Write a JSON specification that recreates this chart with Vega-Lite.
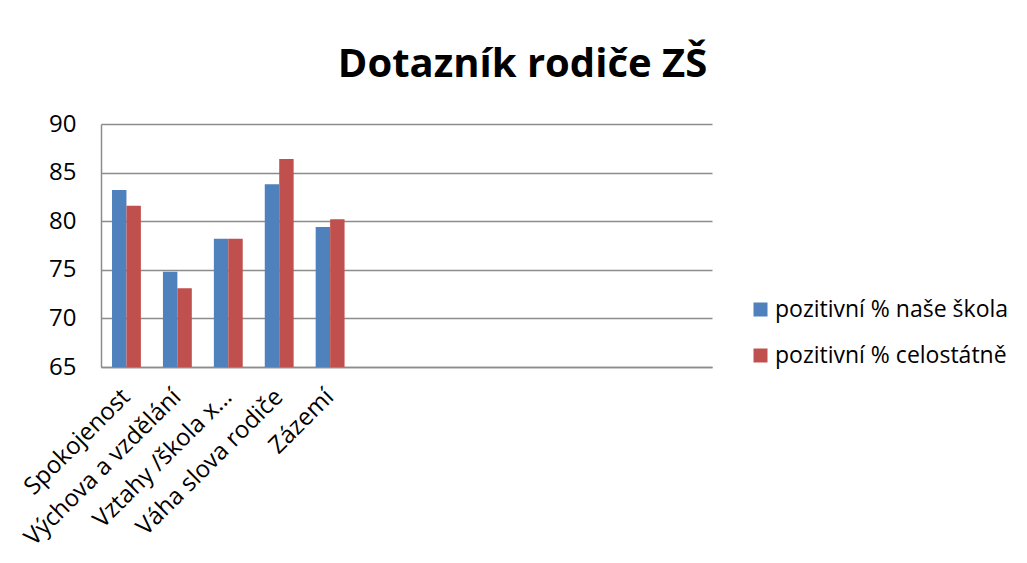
{
  "$schema": "https://vega.github.io/schema/vega-lite/v6.json",
  "autosize": {"type": "none"},
  "width": 611,
  "height": 243,
  "padding": {"left": 101, "top": 124, "right": 315, "bottom": 196},
  "background": "white",
  "title": {
    "text": "Dotazník rodiče ZŠ",
    "font": "Open Sans",
    "fontSize": 40,
    "fontWeight": "bold",
    "color": "#000000",
    "anchor": "middle",
    "dx": 116,
    "offset": 27
  },
  "data": {
    "values": [
      {"kategorie": "Spokojenost", "serie": "pozitivní % naše škola", "hodnota": 83.2},
      {"kategorie": "Spokojenost", "serie": "pozitivní % celostátně", "hodnota": 81.6},
      {"kategorie": "Výchova a vzdělání", "serie": "pozitivní % naše škola", "hodnota": 74.8},
      {"kategorie": "Výchova a vzdělání", "serie": "pozitivní % celostátně", "hodnota": 73.1},
      {"kategorie": "Vztahy /škola x…", "serie": "pozitivní % naše škola", "hodnota": 78.2},
      {"kategorie": "Vztahy /škola x…", "serie": "pozitivní % celostátně", "hodnota": 78.2},
      {"kategorie": "Váha slova rodiče", "serie": "pozitivní % naše škola", "hodnota": 83.8},
      {"kategorie": "Váha slova rodiče", "serie": "pozitivní % celostátně", "hodnota": 86.4},
      {"kategorie": "Zázemí", "serie": "pozitivní % naše škola", "hodnota": 79.4},
      {"kategorie": "Zázemí", "serie": "pozitivní % celostátně", "hodnota": 80.2}
    ]
  },
  "mark": {"type": "bar"},
  "encoding": {
    "x": {
      "field": "kategorie",
      "type": "nominal",
      "sort": null,
      "scale": {
        "domain": ["Spokojenost", "Výchova a vzdělání", "Vztahy /škola x…", "Váha slova rodiče", "Zázemí", "_6", "_7", "_8", "_9", "_10", "_11", "_12"],
        "paddingInner": 0.433,
        "paddingOuter": 0.2165
      },
      "axis": {
        "title": null,
        "labelAngle": -45,
        "labelAlign": "right",
        "labelBaseline": "middle",
        "labelFont": "Open Sans",
        "labelFontSize": 24,
        "labelColor": "#000000",
        "labelPadding": 26,
        "labelLimit": 0,
        "labelOverlap": false,
        "labelExpr": "indexof(datum.value, '_') === 0 ? '' : datum.value",
        "ticks": false,
        "domainColor": "#8c8c8c",
        "domainWidth": 1.5,
        "grid": false
      }
    },
    "xOffset": {
      "field": "serie",
      "type": "nominal",
      "sort": ["pozitivní % naše škola", "pozitivní % celostátně"],
      "scale": {"paddingInner": 0, "paddingOuter": 0}
    },
    "y": {
      "field": "hodnota",
      "type": "quantitative",
      "scale": {"domain": [65, 90], "zero": false, "nice": false},
      "axis": {
        "title": null,
        "values": [65, 70, 75, 80, 85, 90],
        "labelFont": "Open Sans",
        "labelFontSize": 24,
        "labelColor": "#000000",
        "labelPadding": 25,
        "ticks": false,
        "domainColor": "#8c8c8c",
        "domainWidth": 1.5,
        "gridColor": "#8c8c8c",
        "gridWidth": 1.5
      }
    },
    "y2": {"datum": 65},
    "color": {
      "field": "serie",
      "type": "nominal",
      "sort": ["pozitivní % naše škola", "pozitivní % celostátně"],
      "scale": {"range": ["#4F81BD", "#C0504D"]},
      "legend": {
        "title": null,
        "orient": "none",
        "legendX": 648,
        "legendY": 174,
        "symbolType": "square",
        "symbolSize": 196,
        "symbolStrokeWidth": 0,
        "labelFont": "Open Sans",
        "labelFontSize": 23,
        "labelColor": "#000000",
        "labelOffset": 3,
        "labelLimit": 0,
        "rowPadding": 22
      }
    }
  },
  "config": {
    "view": {"stroke": null}
  }
}
